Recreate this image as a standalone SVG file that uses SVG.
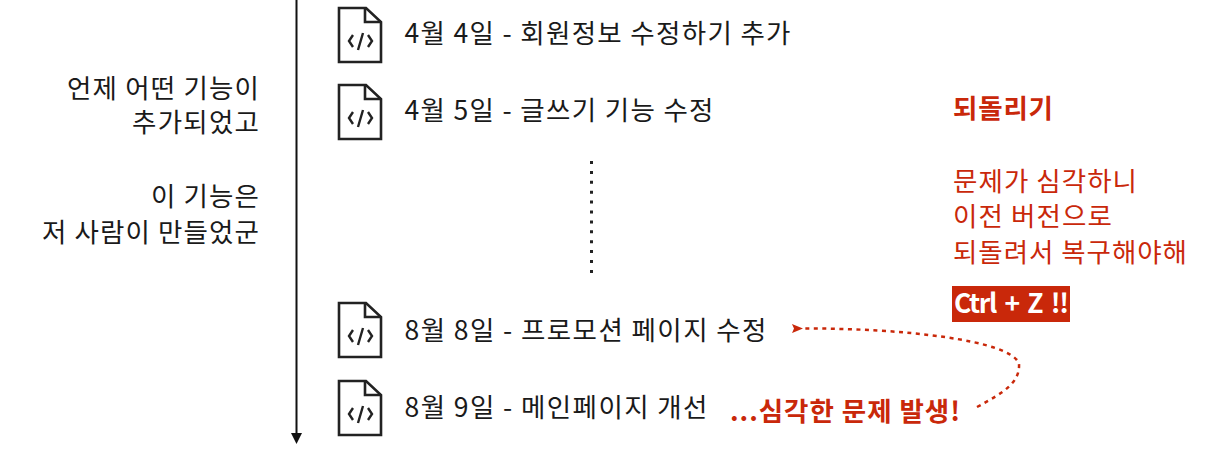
<svg xmlns="http://www.w3.org/2000/svg" width="1208" height="465" viewBox="0 0 1208 465">
<style>
text{font-family:"Noto Sans CJK KR","Noto Sans",sans-serif;font-size:26.500px;fill:#1a1a1a}
.r{text-anchor:end}
.red{fill:#c9280a}
.b{font-weight:700}
.doc{fill:none;stroke:#222;stroke-width:2.600}
.code{fill:none;stroke:#222;stroke-width:2.400}
</style>
<defs>
<g id="doc">
<path class="doc" d="M59 8H86L101 22V62H59Z"/>
<path class="doc" d="M85 8V22H101"/>
<path class="code" d="M73 35L69 41L73 47M88 35L92 41L88 47M83 33L78 50"/>
</g>
<marker id="ah" markerWidth="12" markerHeight="9" refX="0" refY="4.500" orient="auto" markerUnits="userSpaceOnUse"><path d="M0 4.500L11 0L9 4.500L11 9Z" fill="#c9280a"/></marker>
</defs>
<g id="connectors">
<path d="M296.500 0V433" stroke="#111" stroke-width="2" fill="none"/>
<path d="M291 433H302L296.500 444Z" fill="#111"/>
<path d="M591.500 161V274" stroke="#222" stroke-width="3" stroke-dasharray="3 6.900" fill="none"/>
<path d="M977 407C1005 392 1020 382 1019 364C1012 340 900 328 803 328.500" stroke="#c9280a" stroke-width="2.500" stroke-dasharray="4 4.500" fill="none" marker-end="url(#ah)"/>
</g>
<g id="note-left">
<text class="r" x="259" y="97.500" textLength="192">언제 어떤 기능이</text>
<text class="r" x="259" y="131.500" textLength="127">추가되었고</text>
<text class="r" x="259" y="205.500" textLength="108">이 기능은</text>
<text class="r" x="259" y="241.500" textLength="217">저 사람이 만들었군</text>
</g>
<g id="n1"><use href="#doc" x="280" y="0"/><text x="404.500" y="43" textLength="386">4월 4일 - 회원정보 수정하기 추가</text></g>
<g id="n2"><use href="#doc" x="280" y="77"/><text x="404.500" y="120" textLength="309">4월 5일 - 글쓰기 기능 수정</text></g>
<g id="n3"><use href="#doc" x="280" y="295"/><text x="404.500" y="340" textLength="362">8월 8일 - 프로모션 페이지 수정</text></g>
<g id="n4"><use href="#doc" x="280" y="373"/><text x="404.500" y="417" textLength="303">8월 9일 - 메인페이지 개선</text></g>
<g id="problem"><text class="red b" x="730" y="421" textLength="230">...심각한 문제 발생!</text></g>
<g id="note-right">
<text class="red b" x="953" y="117.500" textLength="100">되돌리기</text>
<text class="red" x="953" y="191" textLength="184">문제가 심각하니</text>
<text class="red" x="953" y="226" textLength="159">이전 버전으로</text>
<text class="red" x="953" y="262" textLength="234">되돌려서 복구해야해</text>
<rect x="952" y="286" width="118" height="36" fill="#c9280a"/>
<text class="b" x="954" y="313" textLength="115" style="fill:#fff;word-spacing:4px">Ctrl + Z !!</text>
</g>
</svg>
